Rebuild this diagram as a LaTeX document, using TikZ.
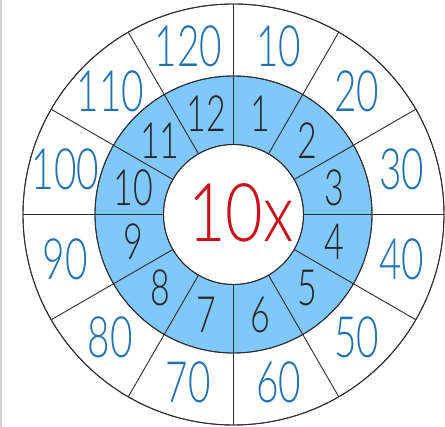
\documentclass[tikz,border=0pt]{standalone}
\usepackage{fontspec}
\setmainfont{Lato}
\newfontfamily\numfont{Lato Light}[FakeStretch=0.68]
\newfontfamily\titlefont{Lato Light}[FakeStretch=0.8]
\definecolor{ringblue}{RGB}{128,199,250}
\definecolor{numblue}{RGB}{34,114,176}
\definecolor{tenred}{RGB}{200,18,24}
\definecolor{linegray}{RGB}{45,45,45}
\tikzset{
  outnum/.style={text=numblue,font=\numfont\fontsize{57}{57}\selectfont,inner sep=0pt},
  innum/.style={text=black!85,font=\numfont\fontsize{50}{50}\selectfont,inner sep=0pt},
  spoke/.style={draw=linegray,line width=0.9pt},
  rim/.style={draw=linegray,line width=0.9pt}
}
\begin{document}
\begin{tikzpicture}[x=1pt,y=1pt]
\useasboundingbox (-233.5,-212.5) rectangle (211.5,214.5);
\fill[white] (-233.5,-212.5) rectangle (211.5,214.5);
\draw[gray!35,line width=1.2pt] (-232.5,-212.5) -- (-232.5,214.5);
\node[circle,minimum size=421pt,inner sep=0pt,fill=white,rim] (outer) at (0,0) {};
\node[circle,minimum size=277pt,inner sep=0pt,fill=ringblue,rim] (ring) at (0,0) {};
\node[circle,minimum size=140pt,inner sep=0pt,fill=white,rim] (hub) at (0,0) {};
\foreach \k in {0,...,11}{
  \pgfmathsetmacro{\a}{90-30*\k}
  \coordinate (s\k) at (\a:70);
  \coordinate (e\k) at (\a:210.5);
  \draw[spoke] (s\k) -- (e\k);
}
\draw[rim] (0,0) circle[radius=70];
\draw[rim] (0,0) circle[radius=138.5];
\draw[rim] (0,0) circle[radius=210.5];
\foreach \k in {1,...,12}{
  \pgfmathsetmacro{\a}{105-30*\k}
  \pgfmathtruncatemacro{\v}{10*\k}
  \node[innum] (in\k) at (\a:104) {\k};
  \node[outnum] (out\k) at (\a:174) {\v};
}
\node[text=tenred,font=\titlefont\fontsize{81}{81}\selectfont,inner sep=0pt] (title) at (7.5,1.5) {10x};
\end{tikzpicture}
\end{document}
